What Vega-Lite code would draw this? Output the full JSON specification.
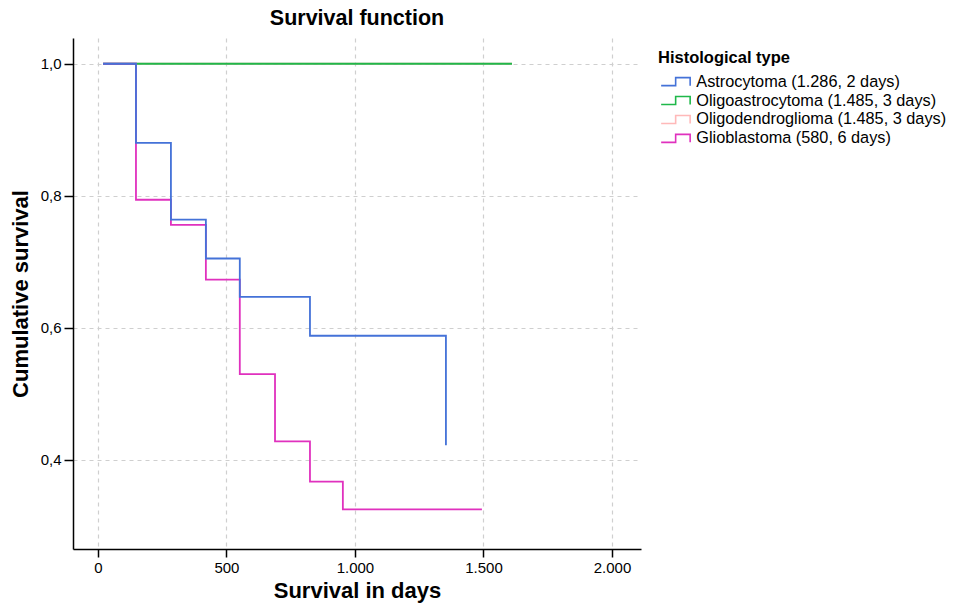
{
  "$schema": "https://vega.github.io/schema/vega-lite/v6.json",
  "autosize": "none",
  "width": 568,
  "height": 511,
  "padding": {"left": 73, "top": 38, "right": 322, "bottom": 57},
  "background": "white",
  "config": {
    "font": "Liberation Sans",
    "view": {"stroke": null}
  },
  "title": {
    "text": "Survival function",
    "fontSize": 21.5,
    "fontWeight": "bold",
    "color": "black",
    "anchor": "middle",
    "offset": 9
  },
  "data": {
    "values": [
      {"type": "Oligodendroglioma (1.485, 3 days)", "days": 20, "surv": 1.0},
      {"type": "Oligodendroglioma (1.485, 3 days)", "days": 1611, "surv": 1.0},
      {"type": "Oligoastrocytoma (1.485, 3 days)", "days": 20, "surv": 1.0},
      {"type": "Oligoastrocytoma (1.485, 3 days)", "days": 1611, "surv": 1.0},
      {"type": "Glioblastoma (580, 6 days)", "days": 20, "surv": 1.0},
      {"type": "Glioblastoma (580, 6 days)", "days": 148, "surv": 0.794},
      {"type": "Glioblastoma (580, 6 days)", "days": 284, "surv": 0.756},
      {"type": "Glioblastoma (580, 6 days)", "days": 420, "surv": 0.673},
      {"type": "Glioblastoma (580, 6 days)", "days": 552, "surv": 0.53},
      {"type": "Glioblastoma (580, 6 days)", "days": 689, "surv": 0.428},
      {"type": "Glioblastoma (580, 6 days)", "days": 825, "surv": 0.367},
      {"type": "Glioblastoma (580, 6 days)", "days": 953, "surv": 0.325},
      {"type": "Glioblastoma (580, 6 days)", "days": 1494, "surv": 0.325},
      {"type": "Astrocytoma (1.286, 2 days)", "days": 20, "surv": 1.0},
      {"type": "Astrocytoma (1.286, 2 days)", "days": 148, "surv": 0.88},
      {"type": "Astrocytoma (1.286, 2 days)", "days": 284, "surv": 0.764},
      {"type": "Astrocytoma (1.286, 2 days)", "days": 420, "surv": 0.705},
      {"type": "Astrocytoma (1.286, 2 days)", "days": 552, "surv": 0.647},
      {"type": "Astrocytoma (1.286, 2 days)", "days": 825, "surv": 0.588},
      {"type": "Astrocytoma (1.286, 2 days)", "days": 1354, "surv": 0.422}
    ]
  },
  "mark": {"type": "line", "interpolate": "step-after", "strokeWidth": 1.8, "clip": true},
  "encoding": {
    "x": {
      "field": "days",
      "type": "quantitative",
      "scale": {"domain": [-97, 2113], "nice": false, "zero": false},
      "axis": {
        "title": "Survival in days",
        "values": [0, 500, 1000, 1500, 2000],
        "labelExpr": "replace(format(datum.value, ','), ',', '.')",
        "labelFontSize": 15,
        "labelColor": "black",
        "labelPadding": 3,
        "titleFontSize": 22,
        "titleFontWeight": "bold",
        "titleColor": "black",
        "titlePadding": 5,
        "domainColor": "black",
        "domainWidth": 1.5,
        "tickColor": "black",
        "tickWidth": 1.5,
        "tickSize": 8,
        "grid": true,
        "gridColor": "#cfcfcf",
        "gridDash": [4, 4],
        "gridWidth": 1.2
      }
    },
    "y": {
      "field": "surv",
      "type": "quantitative",
      "scale": {"domain": [0.265, 1.039], "nice": false, "zero": false},
      "axis": {
        "title": "Cumulative survival",
        "values": [0.4, 0.6, 0.8, 1.0],
        "labelExpr": "replace(format(datum.value, '.1f'), '.', ',')",
        "labelFontSize": 15,
        "labelColor": "black",
        "labelPadding": 3,
        "titleFontSize": 22,
        "titleFontWeight": "bold",
        "titleColor": "black",
        "titlePadding": 8,
        "domainColor": "black",
        "domainWidth": 1.5,
        "tickColor": "black",
        "tickWidth": 1.5,
        "tickSize": 9,
        "grid": true,
        "gridColor": "#cfcfcf",
        "gridDash": [4, 4],
        "gridWidth": 1.2
      }
    },
    "color": {
      "field": "type",
      "type": "nominal",
      "scale": {
        "domain": ["Astrocytoma (1.286, 2 days)", "Oligoastrocytoma (1.485, 3 days)", "Oligodendroglioma (1.485, 3 days)", "Glioblastoma (580, 6 days)"],
        "range": ["#4472d8", "#1fb84a", "#ffb9b9", "#e031be"]
      },
      "legend": {
        "title": "Histological type",
        "orient": "none",
        "legendX": 585,
        "legendY": 12,
        "titleFontSize": 16.5,
        "titleFontWeight": "bold",
        "titleColor": "black",
        "titlePadding": 7,
        "labelFontSize": 16.3,
        "labelColor": "black",
        "labelLimit": 400,
        "labelOffset": 22,
        "symbolType": "M-1,0.8H1.9V-0.8H4.8V0.8",
        "symbolSize": 100,
        "symbolStrokeWidth": 1.6,
        "symbolFillColor": "transparent",
        "rowPadding": 1.9,
        "padding": 0
      }
    },
    "order": {"field": "days", "type": "quantitative"}
  }
}
